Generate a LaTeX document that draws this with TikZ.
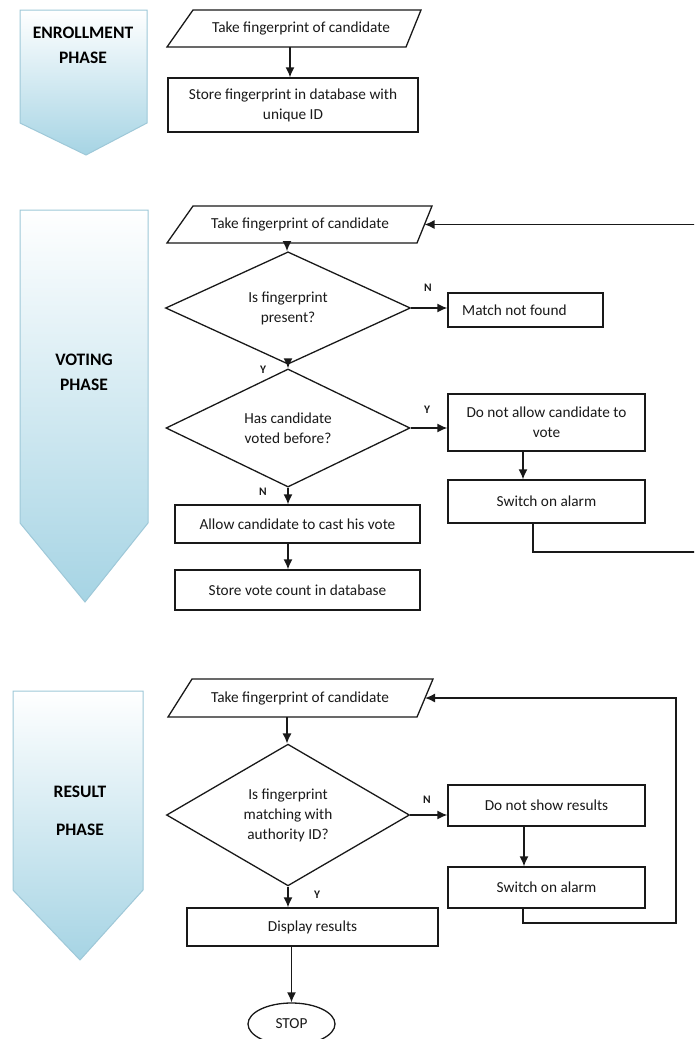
\documentclass[tikz,border=0pt]{standalone}
\usepackage{fontspec}
\setmainfont{Carlito}
\usetikzlibrary{shapes.geometric,arrows.meta,calc}
\definecolor{phaseblue}{RGB}{166,212,228}
\definecolor{phaseedge}{RGB}{158,200,216}
\definecolor{ink}{RGB}{25,25,25}
\begin{document}
\begin{tikzpicture}[x=1pt,y=-1pt,
  every node/.style={font=\fontsize{15.3}{20}\selectfont, text=ink},
  box/.style={draw=ink, line width=1.3pt, inner sep=0pt, align=center},
  dia/.style={diamond, draw=ink, line width=1.3pt, inner sep=0pt, align=center},
  plain/.style={inner sep=0pt, align=center},
  outline/.style={draw=ink, line width=1.3pt, line join=miter},
  conn/.style={draw=ink, line width=1.5pt},
  arr/.style={conn, -{Latex[length=10pt,width=9pt]}},
  lbl/.style={font=\fontsize{11.5}{13}\selectfont\bfseries, inner sep=0pt},
  phasetxt/.style={font=\fontsize{17.5}{25}\selectfont\bfseries, align=center, inner sep=0pt, text=black},
  phase/.style={top color=white, bottom color=phaseblue, draw=phaseedge, line width=1pt}
]
\useasboundingbox (0,0) rectangle (694,1039);
\clip (0,0) rectangle (694,1039);

% ---------- phase arrows ----------
\shade[phase] (20,10) -- (147,10) -- (147,123) -- (86,155) -- (20,123) -- cycle;
\node[phasetxt] (pe) at (83,45) {ENROLLMENT\\PHASE};
\shade[phase] (20,210) -- (148,210) -- (148,523) -- (85,602) -- (20,523) -- cycle;
\node[phasetxt] (pv) at (84,372) {VOTING\\PHASE};
\shade[phase] (13,691) -- (143,691) -- (143,890) -- (80,960) -- (13,890) -- cycle;
\node[phasetxt] (pr) at (80,811) {RESULT\\[13pt]PHASE};

% ---------- enrollment ----------
\draw[outline] (193,10) -- (421,10) -- (406,47) -- (167,47) -- cycle;
\node[plain, minimum height=37pt] (e1) at (301,28.5) {Take fingerprint of candidate};
\node[box, minimum width=250pt, minimum height=54pt] (e2) at (293,105) {Store fingerprint in database with\\unique ID};
\coordinate (ex) at (290,0);
\draw[arr] (e1.south -| ex) -- (e2.north -| ex);

% ---------- voting ----------
\draw[outline] (193,206) -- (432,206) -- (417,243) -- (167,243) -- cycle;
\node[plain, minimum height=37pt] (v1) at (300,224.5) {Take fingerprint of candidate};
\coordinate (v1r) at (424.5,224.5);
\node[dia, minimum width=245pt, minimum height=90pt] (v2) at (288,308) {Is fingerprint\\present?};
\node[box, minimum width=155pt, minimum height=34pt] (v3) at (525.5,310) {};
\node[anchor=west, inner sep=0pt] (v3t) at (462,310) {Match not found};
\node[dia, minimum width=244pt, minimum height=104pt] (v4) at (288,428) {Has candidate\\voted before?};
\node[box, minimum width=197pt, minimum height=57pt] (v5) at (546.5,422.5) {Do not allow candidate to\\vote};
\node[box, minimum width=197pt, minimum height=43pt] (v6) at (546.5,501.5) {Switch on alarm};
\node[box, minimum width=245pt, minimum height=38pt] (v7) at (297.5,524) {Allow candidate to cast his vote};
\node[box, minimum width=245pt, minimum height=40pt] (v8) at (297.5,590) {Store vote count in database};
\node[lbl] (n1) at (428,288) {N};
\node[lbl] (y1) at (263,370) {Y};
\node[lbl] (y2) at (427,410) {Y};
\node[lbl] (n2) at (263,492) {N};
\coordinate (vx) at (287,0);
\draw[arr] (v1.south -| vx) -- (v2.north -| vx);
\draw[arr] (v2.east) -- (v2.east -| v3.west);
\draw[arr] (v2.south) -- (v4.north);
\draw[arr] (v4.east) -- (v4.east -| v5.west);
\coordinate (vy) at (523,0);
\draw[arr] (v5.south -| vy) -- (v6.north -| vy);
\draw[arr] (v4.south) -- (v4.south |- v7.north);
\draw[arr] (v4.south |- v7.south) -- (v4.south |- v8.north);
\coordinate (vb) at (533,552);
\coordinate (vc) at (700,552);
\draw[arr] (vb |- v6.south) -- (vb) -- (vc) -- (vc |- v1r) -- (v1r);

% ---------- result ----------
\draw[outline] (192,679) -- (433,679) -- (417,717) -- (168,717) -- cycle;
\node[plain, minimum height=38pt] (r1) at (300,698) {Take fingerprint of candidate};
\coordinate (r1r) at (425,698);
\node[dia, minimum width=243pt, minimum height=136pt] (r2) at (288,815) {Is fingerprint\\matching with\\authority ID?};
\node[box, minimum width=197pt, minimum height=41pt] (r3) at (546.5,805.5) {Do not show results};
\node[box, minimum width=197pt, minimum height=41pt] (r4) at (546.5,887.5) {Switch on alarm};
\node[box, minimum width=251pt, minimum height=38pt] (r5) at (312.5,927) {Display results};
\node[ellipse, draw=ink, line width=1.3pt, minimum width=87pt, minimum height=42pt, inner sep=0pt] (stop) at (291.5,1024) {STOP};
\node[lbl] (n3) at (427,800) {N};
\node[lbl] (y3) at (317,895) {Y};
\coordinate (rx) at (287,0);
\draw[arr] (r1.south -| rx) -- (r2.north -| rx);
\draw[arr] (r2.east) -- (r2.east -| r3.west);
\coordinate (ry) at (524,0);
\draw[arr] (r3.south -| ry) -- (r4.north -| ry);
\draw[arr] (r2.south) -- (r2.south |- r5.north);
\draw[arr] (r5.south -| stop.north) -- (stop.north);
\coordinate (rb) at (523,923);
\coordinate (rc) at (676,923);
\draw[arr] (rb |- r4.south) -- (rb) -- (rc) -- (rc |- r1r) -- (r1r);
\end{tikzpicture}
\end{document}
